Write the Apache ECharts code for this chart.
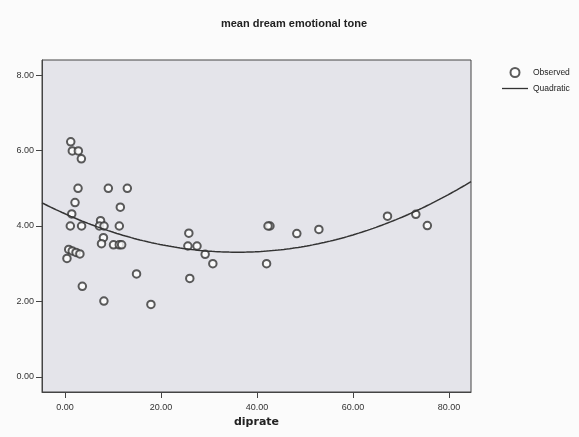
<!DOCTYPE html>
<html>
<head>
<meta charset="utf-8">
<script src="https://cdn.jsdelivr.net/npm/echarts@6/dist/echarts.min.js"></script>
<style>
html,body{margin:0;padding:0;background:#fbfbfb;}
#c{width:579px;height:437px;}
</style>
</head>
<body>
<div id="c"></div>
<script>
var diprate = [1.19, 1.52, 2.77, 3.40, 2.71, 9.02, 12.98, 2.08, 11.52, 1.40,
  7.4, 1.10, 3.45, 7.15, 8.13, 11.31, 8.0, 7.6, 10.1, 11.3,
  11.8, 0.77, 1.5, 2.3, 3.1, 0.4, 25.8, 25.6, 27.5, 29.2,
  30.8, 14.9, 26.0, 3.6, 8.1, 17.9, 42.7, 42.3, 48.3, 52.9,
  42.0, 67.2, 73.1, 75.5];
var tone = [6.23, 5.99, 5.99, 5.78, 5.0, 5.0, 5.0, 4.62, 4.50, 4.32,
  4.14, 4.0, 4.0, 4.0, 4.0, 4.0, 3.69, 3.53, 3.5, 3.5,
  3.5, 3.38, 3.34, 3.30, 3.26, 3.14, 3.81, 3.47, 3.47, 3.25,
  3.0, 2.73, 2.61, 2.40, 2.01, 1.92, 4.0, 4.0, 3.80, 3.91,
  3.0, 4.26, 4.31, 4.01];
var xTicks = [0, 20, 40, 60, 80];
var yTicks = [0, 2, 4, 6, 8];
var titleText = 'mean dream emotional tone';
var xName = 'diprate';
var legendNames = ['Observed', 'Quadratic'];

// least squares quadratic fit of the observed data
function quadFit(x, y) {
  var n = x.length, s = [0,0,0,0,0], t = [0,0,0];
  for (var i = 0; i < n; i++) {
    var p = 1;
    for (var k = 0; k < 5; k++) { s[k] += p; if (k < 3) t[k] += p * y[i]; p *= x[i]; }
  }
  var A = [[s[0],s[1],s[2],t[0]],[s[1],s[2],s[3],t[1]],[s[2],s[3],s[4],t[2]]];
  for (var c = 0; c < 3; c++) {
    for (var r = c + 1; r < 3; r++) {
      var f = A[r][c] / A[c][c];
      for (var j = c; j < 4; j++) A[r][j] -= f * A[c][j];
    }
  }
  var b = [0,0,0];
  for (var r2 = 2; r2 >= 0; r2--) {
    var v = A[r2][3];
    for (var j2 = r2 + 1; j2 < 3; j2++) v -= A[r2][j2] * b[j2];
    b[r2] = v / A[r2][r2];
  }
  return b;
}
var coef = quadFit(diprate, tone);
var xMin = -4.8, xMax = 84.6;
var curve = [];
for (var xx = xMin; xx <= xMax + 1e-9; xx += 0.6) {
  curve.push([xx, coef[0] + coef[1] * xx + coef[2] * xx * xx]);
}
var scatterData = diprate.map(function (d, i) { return [d, tone[i]]; });

var chart = echarts.init(document.getElementById('c'), null, {renderer: 'canvas'});
chart.setOption({
  backgroundColor: '#fbfbfb',
  animation: false,
  title: {
    text: titleText, left: 289, top: 13, textAlign: 'center',
    textStyle: {fontFamily: 'Liberation Sans', fontSize: 11, fontWeight: 'bold', color: '#222'}
  },
  legend: {
    orient: 'vertical', left: 497, top: 62, itemWidth: 26, itemHeight: 9, itemGap: 6,
    textStyle: {fontFamily: 'Liberation Sans', fontSize: 8.5, color: '#222'},
    data: [
      {name: legendNames[0], icon: 'emptyCircle'},
      {name: legendNames[1], icon: 'path://M0,0 L26,0 L26,1.3 L0,1.3 Z'}
    ]
  },
  grid: {
    left: 42, right: 108, top: 60, bottom: 45, show: true,
    backgroundColor: '#e4e4ea', borderColor: '#444', borderWidth: 1
  },
  xAxis: {
    type: 'value', min: xMin, max: xMax,
    name: xName, nameLocation: 'middle', nameGap: 23,
    nameTextStyle: {fontFamily: 'DejaVu Sans', fontSize: 11, fontWeight: 'bold', color: '#222'},
    axisLine: {show: true, onZero: false, lineStyle: {color: '#444'}},
    axisTick: {show: true, length: 6, customValues: xTicks, lineStyle: {color: '#444'}},
    axisLabel: {customValues: xTicks, margin: 11, fontFamily: 'Liberation Sans', fontSize: 9, color: '#333',
      formatter: function (v) { return v.toFixed(2); }},
    splitLine: {show: false}
  },
  yAxis: {
    type: 'value', min: -0.4, max: 8.4,
    axisLine: {show: true, onZero: false, lineStyle: {color: '#444'}},
    axisTick: {show: true, length: 6, customValues: yTicks, lineStyle: {color: '#444'}},
    axisLabel: {customValues: yTicks, margin: 8, fontFamily: 'Liberation Sans', fontSize: 9, color: '#333',
      formatter: function (v) { return v.toFixed(2); }},
    splitLine: {show: false}
  },
  series: [
    {
      name: legendNames[0], type: 'scatter', data: scatterData,
      symbol: 'emptyCircle', symbolSize: 7.5,
      itemStyle: {color: '#333', borderColor: '#333', borderWidth: 1.3}
    },
    {
      name: legendNames[1], type: 'line', data: curve, symbol: 'none', smooth: false,
      lineStyle: {color: '#333', width: 1.5}, itemStyle: {color: '#333'}
    }
  ]
});
</script>
</body>
</html>
